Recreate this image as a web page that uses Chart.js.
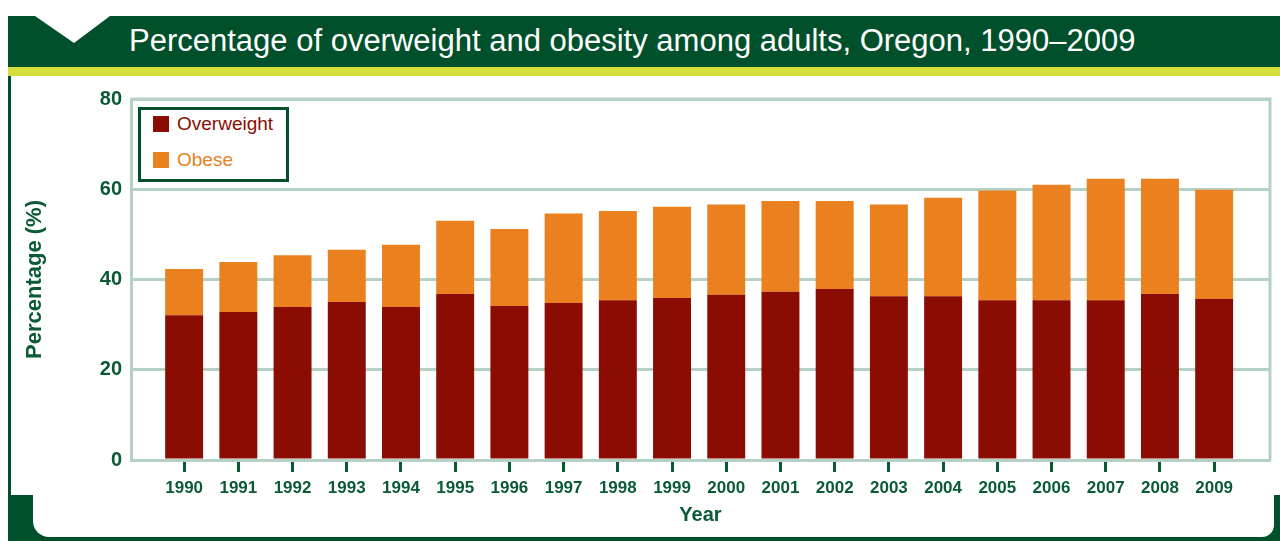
<!DOCTYPE html>
<html>
<head>
<meta charset="utf-8">
<title>Overweight and obesity among adults, Oregon</title>
<script src="https://cdn.jsdelivr.net/npm/chart.js@4.4.1/dist/chart.umd.min.js"></script>
<style>
  html, body { margin: 0; padding: 0; background: #fff; }
  body { width: 1280px; height: 541px; position: relative; overflow: hidden;
         font-family: "Liberation Sans", Arial, sans-serif; }
  .dk { position: absolute; background: #00502c; z-index: 0; }
  #band { left: 8px; top: 16px; width: 1272px; height: 51px; }
  #stripe { position: absolute; left: 8px; top: 67px; width: 1272px; height: 9px; background: #d5df3c; }
  #leftline { left: 8px; top: 76px; width: 3px; height: 465px; }
  #botline { left: 8px; top: 537px; width: 1272px; height: 4px; }
  #cornerL { left: 8px; top: 495px; width: 45px; height: 46px; }
  #cornerR { left: 1255px; top: 495px; width: 25px; height: 46px; }
  #panel { position: absolute; left: 33px; top: 470px; width: 1241px; height: 67px;
           background: #fff; border-radius: 0 0 12px 16px; z-index: 1; }
  #chevron { position: absolute; left: 0; top: 0; z-index: 1; }
  #title { position: absolute; left: 129px; top: 25px; line-height: 31px; font-size: 31px;
           color: #fff; white-space: nowrap; z-index: 1; }
  #chart { position: absolute; left: 0; top: 0; z-index: 2; }
  #legend { position: absolute; left: 138px; top: 107px; width: 145px; height: 69px;
            border: 3px solid #00502c; background: #fff; z-index: 3; }
  #legend .row { position: absolute; left: 12px; height: 16px; white-space: nowrap; }
  #legend .sw { position: absolute; left: 0; top: 0; width: 16px; height: 16px; }
  #legend .txt { position: absolute; left: 24px; top: 0; line-height: 16px; font-size: 19px; }
</style>
</head>
<body>
<div class="dk" id="band"></div>
<div id="stripe"></div>
<div class="dk" id="leftline"></div>
<div class="dk" id="botline"></div>
<div class="dk" id="cornerL"></div>
<div class="dk" id="cornerR"></div>
<div id="panel"></div>
<svg id="chevron" width="130" height="50"><polygon points="22,7 72,16 122,7 74,43" fill="#fff"/></svg>
<div id="title">Percentage of overweight and obesity among adults, Oregon, 1990–2009</div>
<canvas id="chart" width="1280" height="541"></canvas>
<div id="legend"></div>
<script>
  const years = [1990, 1991, 1992, 1993, 1994, 1995, 1996, 1997, 1998, 1999,
                 2000, 2001, 2002, 2003, 2004, 2005, 2006, 2007, 2008, 2009];
  const overweight = [32.1, 32.8, 33.9, 35.0, 33.9, 36.8, 34.1, 34.8, 35.4, 35.9,
                      36.6, 37.3, 37.9, 36.3, 36.3, 35.4, 35.4, 35.4, 36.8, 35.7];
  const obese = [10.2, 11.1, 11.5, 11.6, 13.8, 16.2, 17.1, 19.8, 19.8, 20.2,
                 20.0, 20.1, 19.5, 20.3, 21.8, 24.3, 25.6, 26.9, 25.5, 24.2];
  const yTicks = [0, 20, 40, 60, 80];

  const green = "#0b5a36";
  const gridColor = "#b5d0c5";
  const fontFamily = "'Liberation Sans', Arial, sans-serif";

  // right edge of the plot frame
  const framePlugin = {
    id: "frame",
    beforeDatasetsDraw(chart) {
      const { ctx, chartArea: a } = chart;
      ctx.save();
      ctx.strokeStyle = gridColor;
      ctx.lineWidth = 3;
      ctx.beginPath();
      ctx.moveTo(a.left, a.top);
      ctx.lineTo(a.right, a.top);
      ctx.lineTo(a.right, a.bottom);
      ctx.stroke();
      ctx.restore();
    }
  };

  const data = {
    datasets: [
      {
        label: "Overweight",
        data: years.map((y, i) => ({ x: y, y: overweight[i] })),
        backgroundColor: "#8b0c02",
      },
      {
        label: "Obese",
        data: years.map((y, i) => ({ x: y, y: obese[i] })),
        backgroundColor: "#ea801e",
      },
    ],
  };

  const config = {
    type: "bar",
    data: data,
    plugins: [framePlugin],
    options: {
      responsive: false,
      animation: false,
      devicePixelRatio: 1,
      layout: { padding: { left: 20, top: 99, right: 10, bottom: 11 } },
      datasets: { bar: { barPercentage: 0.7, categoryPercentage: 1, borderWidth: 0 } },
      plugins: {
        legend: { display: false },
        tooltip: { enabled: false },
      },
      scales: {
        x: {
          type: "linear",
          stacked: true,
          offset: false,
          min: 1989.02,
          max: 2010.03,
          afterBuildTicks: (s) => { s.ticks = years.map((v) => ({ value: v })); },
          afterFit: (s) => { s.height = 70; },
          grid: { offset: false, drawOnChartArea: false, tickLength: 12, tickWidth: 3, tickColor: green, color: green },
          border: { display: true, color: gridColor, width: 3 },
          ticks: {
            autoSkip: false, maxRotation: 0, padding: 6, color: green,
            font: { family: fontFamily, size: 17, weight: "bold" },
            callback: (v) => String(v),
          },
          title: {
            display: true, text: "Year", color: green,
            font: { family: fontFamily, size: 20, weight: "bold" },
            padding: { top: 4, bottom: 3 },
          },
        },
        y: {
          stacked: true,
          min: 0,
          max: 80,
          afterBuildTicks: (s) => { s.ticks = yTicks.map((v) => ({ value: v })); },
          afterFit: (s) => { s.width = 111; },
          grid: { color: gridColor, lineWidth: 3, drawTicks: false },
          border: { display: true, color: gridColor, width: 3 },
          ticks: {
            padding: 9, color: green,
            font: { family: fontFamily, size: 20, weight: "bold" },
          },
          title: {
            display: true, text: "Percentage (%)", color: green,
            font: { family: fontFamily, size: 22, weight: "bold" },
            padding: { top: 2, bottom: 2 },
          },
        },
      },
    },
  };

  const chart = new Chart(document.getElementById("chart"), config);

  // legend box inside the plot
  const legend = document.getElementById("legend");
  chart.data.datasets.forEach((ds, i) => {
    const row = document.createElement("div");
    row.className = "row";
    row.style.top = (6 + i * 36) + "px";
    row.innerHTML = '<span class="sw" style="background:' + ds.backgroundColor + '"></span>' +
      '<span class="txt" style="color:' + ds.backgroundColor + '">' + ds.label + "</span>";
    legend.appendChild(row);
  });
</script>
</body>
</html>
